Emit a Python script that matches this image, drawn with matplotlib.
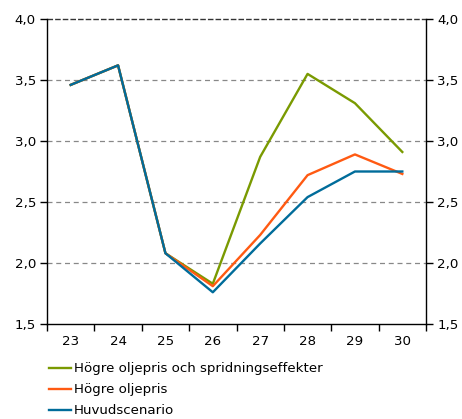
import numpy as np
import matplotlib
matplotlib.use("Agg")
import matplotlib.pyplot as plt

# ---------------- data ----------------
years = ["23", "24", "25", "26", "27", "28", "29", "30"]
spridning = [3.46, 3.62, 2.08, 1.83, 2.87, 3.55, 3.31, 2.91]
hogre_olja = [3.46, 3.62, 2.08, 1.81, 2.23, 2.72, 2.89, 2.73]
huvud = [3.46, 3.62, 2.08, 1.76, 2.16, 2.54, 2.75, 2.75]
yticks = [1.5, 2.0, 2.5, 3.0, 3.5, 4.0]
labels = ["Högre oljepris och spridningseffekter", "Högre oljepris", "Huvudscenario"]

# ---------------- style ----------------
matplotlib.rc('font', family='DejaVu Sans', size=9.6)

fig = plt.figure(figsize=(4.62, 4.19), dpi=100)
ax = fig.add_axes([47/462, 1-324/419, 379/462, 305/419])

x = np.arange(len(years))
ax.plot(x, spridning, color="#7a9a01", lw=1.7, label=labels[0])
ax.plot(x, hogre_olja, color="#ff5a12", lw=1.7, label=labels[1])
ax.plot(x, huvud, color="#006c9a", lw=1.7, label=labels[2])

ax.set_xlim(-0.5, len(years) - 0.5)
ax.set_ylim(1.5, 4.0)
ax.set_yticks(yticks)
ax.set_yticklabels([("%.1f" % v).replace(".", ",") for v in yticks])
ax.set_xticks(x)
ax.set_xticklabels(years)
ax.set_xticks(np.arange(-0.5, len(years)), minor=True)
ax.tick_params(axis='x', which='major', length=0, pad=8)
ax.tick_params(axis='x', which='minor', length=5, width=1, direction='out')
ax.tick_params(axis='y', length=5, width=1, direction='out', left=True, right=True,
               labelleft=True, labelright=True, pad=3)

for v in yticks[1:-1]:
    ax.axhline(v, color="#888888", lw=0.9, ls=(0, (4, 3)), zorder=0)
ax.axhline(4.0, color="#333333", lw=1.0, ls=(0, (4, 1.5)), zorder=0, clip_on=False)
ax.spines['top'].set_visible(False)
for s in ['left', 'right', 'bottom']:
    ax.spines[s].set_linewidth(1.0)

ax.legend(loc="upper left", bbox_to_anchor=(-0.01, -0.108), frameon=False,
          handlelength=1.65, handletextpad=0.25, labelspacing=0.6, borderaxespad=0)

fig.savefig("out.png", dpi=100)
